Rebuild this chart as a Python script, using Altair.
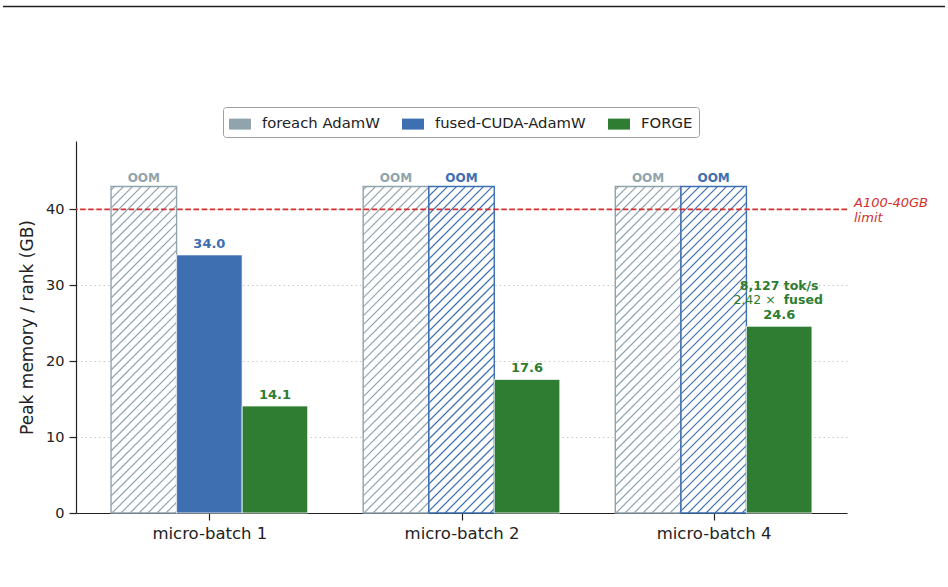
import json
import math
import altair as alt
import pandas as pd

# ---------------- data ----------------
categories = ["micro-batch 1", "micro-batch 2", "micro-batch 4"]
series = ["foreach AdamW", "fused-CUDA-AdamW", "FORGE"]
colors = ["#90a4ae", "#3d6fb1", "#2e7d32"]
foreach_gb = [None, None, None]          # OOM in every setting
fused_gb = [34.0, None, None]            # OOM beyond micro-batch 1
forge_gb = [14.1, 17.6, 24.6]
oom_bar_height = 43.0                    # drawn height of an OOM bar
limit_gb = 40.0
limit_label = ["A100-40GB", "limit"]
note_line1 = "8,127 tok/s"
note_line2a = "2.42 ×"
note_line2b = "fused"
y_ticks = [0, 10, 20, 30, 40]

# ---------------- layout constants ----------------
W, H = 771, 372
X_DOMAIN = [-0.529, 2.529]
Y_DOMAIN = [0, 49]
BAR_W = 0.26
HATCH_STEP = 9.0
FONT = "DejaVu Sans"
INK = "#222222"
RED = "#d32f2f"

px_x = W / (X_DOMAIN[1] - X_DOMAIN[0])
px_y = H / (Y_DOMAIN[1] - Y_DOMAIN[0])

values_by_series = [foreach_gb, fused_gb, forge_gb]
rows = []
for i, cat in enumerate(categories):
    for j, s in enumerate(series):
        v = values_by_series[j][i]
        x0 = i + (j - 1) * BAR_W - BAR_W / 2
        rows.append(dict(
            category=cat, series=s, x=x0, x2=x0 + BAR_W, xc=x0 + BAR_W / 2,
            top=v if v is not None else oom_bar_height, base=0.0,
            oom=v is None, label="OOM" if v is None else f"{v:.1f}",
            color=colors[j],
        ))
bars = pd.DataFrame(rows)
oom_bars = bars[bars["oom"]]
solid_bars = bars[~bars["oom"]]

# hatch segments derived from the OOM bars (45 degree lines in screen space)
hatch_rows = []
for _, r in oom_bars.iterrows():
    ua = (r["x"] - X_DOMAIN[0]) * px_x
    ub = (r["x2"] - X_DOMAIN[0]) * px_x
    vh = r["top"] * px_y
    k = math.ceil((ua - vh) / HATCH_STEP) * HATCH_STEP
    while k < ub:
        u1 = max(ua, k)
        u2 = min(ub, vh + k)
        if u2 > u1:
            hatch_rows.append(dict(
                hx=X_DOMAIN[0] + u1 / px_x, hy=(u1 - k) / px_y,
                hx2=X_DOMAIN[0] + u2 / px_x, hy2=(u2 - k) / px_y,
                color=r["color"],
            ))
        k += HATCH_STEP
hatch = pd.DataFrame(hatch_rows)

label_expr = json.dumps(categories) + "[datum.value]"

x_scale = alt.Scale(domain=X_DOMAIN, nice=False, zero=False)
y_scale = alt.Scale(domain=Y_DOMAIN, nice=False, zero=False)
x_axis = alt.Axis(values=[0, 1, 2], labelExpr=label_expr, title=None, grid=False,
                  domainColor=INK, domainWidth=1.2, tickColor=INK, tickWidth=1.2,
                  tickSize=7, labelFontSize=16.5, labelPadding=5, labelColor=INK,
                  labelFont=FONT)
y_axis = alt.Axis(values=y_ticks, title="Peak memory / rank (GB)", titleFontSize=17,
                  titleFontWeight="normal", titleColor=INK, titleFont=FONT, titlePadding=9,
                  grid=True, gridDash=[1.5, 3], gridColor="#c4c4c4", gridWidth=0.9,
                  domainColor=INK, domainWidth=1.2, tickColor=INK, tickWidth=1.2, tickSize=7,
                  labelFontSize=14.5, labelPadding=5, labelColor=INK, labelFont=FONT)


def X(field, **kw):
    return alt.X(field, type="quantitative", scale=x_scale, axis=x_axis, **kw)


def Y(field, **kw):
    return alt.Y(field, type="quantitative", scale=y_scale, axis=y_axis, **kw)


oom_fill = alt.Chart(oom_bars).mark_rect(fill="white", strokeWidth=0).encode(
    x=X("x"), x2="x2", y=Y("base"), y2="top")

hatch_lines = alt.Chart(hatch).mark_rule(strokeWidth=1.2).encode(
    x=X("hx"), x2="hx2", y=Y("hy"), y2="hy2",
    color=alt.Color("color:N", scale=None))

oom_outline = alt.Chart(oom_bars).mark_rect(filled=False, strokeWidth=1.4).encode(
    x=X("x"), x2="x2", y=Y("base"), y2="top",
    stroke=alt.Stroke("color:N", scale=None))

solid = alt.Chart(solid_bars).mark_rect(stroke="white", strokeWidth=0.8).encode(
    x=X("x"), x2="x2", y=Y("base"), y2="top",
    color=alt.Color("series:N", scale=alt.Scale(domain=series, range=colors),
                    legend=alt.Legend(
                        title=None, orient="none", legendX=147, legendY=-34,
                        direction="horizontal",
                        symbolType="M-1,-0.5H1V0.5H-1Z", symbolSize=484,
                        symbolStrokeWidth=0, symbolOpacity=1,
                        labelFontSize=14.8, labelFont=FONT, labelColor=INK,
                        labelOffset=11, columnPadding=22, padding=6,
                        strokeColor="#9e9e9e", cornerRadius=3, fillColor="white")))

limit_df = pd.DataFrame({"limit": [limit_gb]})
limit_rule = alt.Chart(limit_df).mark_rule(color=RED, strokeWidth=1.7,
                                           strokeDash=[5.5, 2.6]).encode(y=Y("limit"))

value_labels = alt.Chart(solid_bars).mark_text(
    font=FONT, fontSize=13, fontWeight="bold", baseline="alphabetic", dy=-7).encode(
    x=X("xc"), y=Y("top"), text="label:N", color=alt.Color("color:N", scale=None))

oom_labels = alt.Chart(oom_bars).mark_text(
    font=FONT, fontSize=12, fontWeight="bold", baseline="alphabetic", dy=-4.5).encode(
    x=X("xc"), y=Y("top"), text="label:N", color=alt.Color("color:N", scale=None))

note_df = solid_bars[solid_bars["category"] == categories[-1]].copy()
note_df = note_df[note_df["series"] == series[-1]]
note_df["l1"] = note_line1
note_df["l2a"] = note_line2a
note_df["l2b"] = note_line2b
green = colors[2]
note1 = alt.Chart(note_df).mark_text(
    font=FONT, fontSize=12.5, fontWeight="bold", baseline="alphabetic", dy=-36.5,
    color=green).encode(x=X("xc"), y=Y("top"), text="l1:N")
note2a = alt.Chart(note_df).mark_text(
    font=FONT, fontSize=12.5, fontWeight="normal", baseline="alphabetic", dy=-22,
    align="right", dx=-3.5, color=green).encode(x=X("xc"), y=Y("top"), text="l2a:N")
note2b = alt.Chart(note_df).mark_text(
    font=FONT, fontSize=12.5, fontWeight="bold", baseline="alphabetic", dy=-22,
    align="left", dx=4.5, color=green).encode(x=X("xc"), y=Y("top"), text="l2b:N")

lim_txt_df = pd.DataFrame({"xr": [X_DOMAIN[1]], "limit": [limit_gb],
                           "t1": [limit_label[0]], "t2": [limit_label[1]]})
lim_t1 = alt.Chart(lim_txt_df).mark_text(
    font=FONT, fontSize=13, fontStyle="italic", align="left", baseline="alphabetic",
    dx=7, dy=-2.6, color=RED).encode(x=X("xr"), y=Y("limit"), text="t1:N")
lim_t2 = alt.Chart(lim_txt_df).mark_text(
    font=FONT, fontSize=13, fontStyle="italic", align="left", baseline="alphabetic",
    dx=7, dy=12.4, color=RED).encode(x=X("xr"), y=Y("limit"), text="t2:N")

top_line = alt.Chart(pd.DataFrame({"d": [0]})).mark_rule(color=INK, strokeWidth=1.5).encode(
    x=alt.value(-73), x2=alt.value(869), y=alt.value(-134.5))

chart = alt.layer(
    oom_fill, hatch_lines, oom_outline, solid, limit_rule,
    value_labels, oom_labels, note1, note2a, note2b, lim_t1, lim_t2, top_line,
).properties(
    width=W, height=H,
    padding={"left": 76, "top": 141, "right": 101, "bottom": 74},
    autosize=alt.AutoSizeParams(type="none"),
    background="white",
).configure(font=FONT).configure_view(stroke=None)

chart.save("out.html", embed_options={"renderer": "svg", "actions": False})
